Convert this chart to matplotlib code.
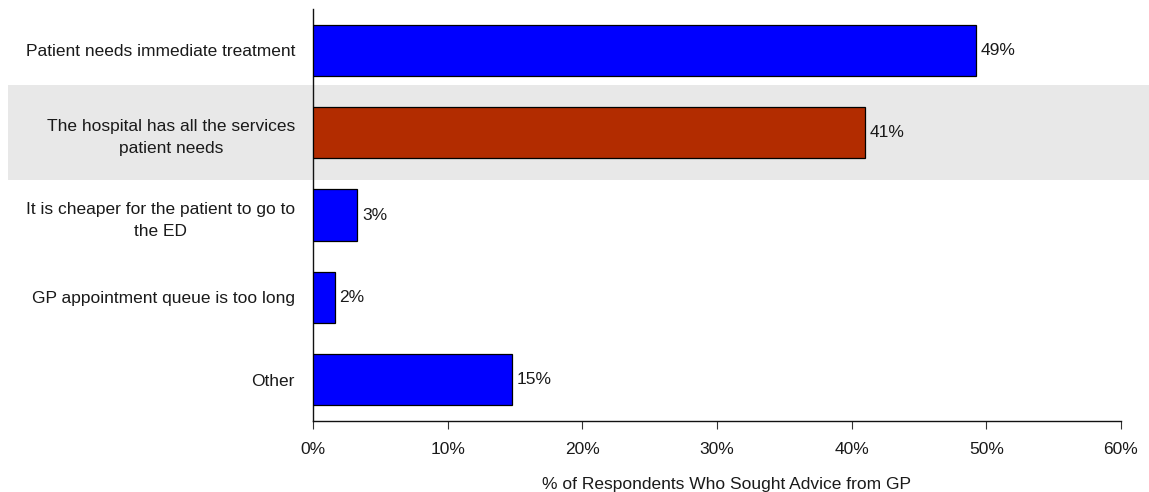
import matplotlib.pyplot as plt
from matplotlib.patches import Rectangle
from matplotlib.transforms import blended_transform_factory
from matplotlib.ticker import FuncFormatter

plt.rcParams['font.family'] = ['Liberation Sans', 'DejaVu Sans']

reasons = [
    'Patient needs immediate treatment',
    'The hospital has all the services\npatient needs',
    'It is cheaper for the patient to go to\nthe ED',
    'GP appointment queue is too long',
    'Other',
]
shares = [49.2, 41.0, 3.3, 1.6, 14.8]  # % of respondents
highlight = 1
xlabel = '% of Respondents Who Sought Advice from GP'

blue = '#0000ff'
red = '#b22c00'
fs = 12.5
txt = '#1a1a1a'

fig = plt.figure(figsize=(11.49, 4.92), dpi=100)
ax = fig.add_axes([0.2724, 0.1443, 0.7032, 0.8374])
ax.set_facecolor('none')

ypos = list(range(len(reasons)))
colors = [red if i == highlight else blue for i in ypos]
bars = ax.barh(ypos, shares, height=0.62, color=colors,
               edgecolor='black', linewidth=0.9, zorder=3)

# grey band behind the highlighted category, running across the whole figure
trans = blended_transform_factory(fig.transFigure, ax.transData)
band = Rectangle((0.007, highlight - 0.577), 1.0, 1.154, transform=trans,
                 facecolor='#e8e8e8', edgecolor='none', clip_on=False, zorder=0)
ax.add_patch(band)

for b, v in zip(bars, shares):
    ax.text(b.get_width() + 0.35, b.get_y() + b.get_height() / 2,
            f'{v:.0f}%', va='center', ha='left', fontsize=fs, color=txt)

ax.set_xlim(0, 60)
ax.set_ylim(len(reasons) - 0.5, -0.5)
ax.set_xticks(range(0, 61, 10))
ax.xaxis.set_major_formatter(FuncFormatter(lambda x, p: f'{x:.0f}%'))
ax.set_yticks(ypos)
ax.set_yticklabels(reasons, fontsize=fs, linespacing=1.6, color=txt)
ax.tick_params(axis='y', length=0, pad=13)
ax.tick_params(axis='x', length=6, direction='out', labelsize=fs, pad=9,
               color='#333333', labelcolor=txt)
for lab in ax.get_yticklabels():
    lab.set_horizontalalignment('right')
    lab.set_multialignment('center')

for s in ['top', 'right']:
    ax.spines[s].set_visible(False)
for s in ['left', 'bottom']:
    ax.spines[s].set_linewidth(1.0)
    ax.spines[s].set_color('#111111')

ax.set_xlabel(xlabel, fontsize=fs, va='center', color=txt)
ax.xaxis.set_label_coords(0.512, -0.153)

fig.savefig('out.png', dpi=100)
